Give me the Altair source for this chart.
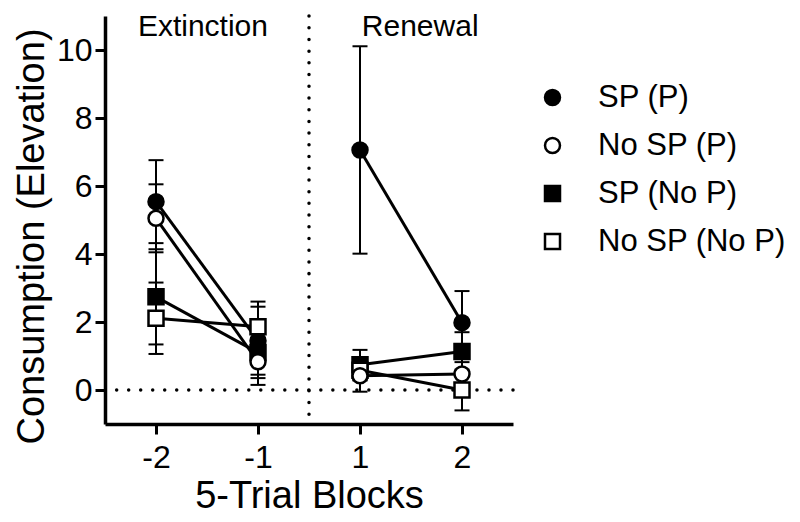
import altair as alt
import pandas as pd

blocks = ["-2", "-1", "1", "2"]
phases = ["Extinction", "Extinction", "Renewal", "Renewal"]
series = ["SP (P)", "No SP (P)", "SP (No P)", "No SP (No P)"]
draw_order = ["SP (P)", "SP (No P)", "No SP (No P)", "No SP (P)"]

sp_p = [5.54, 1.45, 7.06, 1.98]
sp_p_err = [1.22, 1.0, 3.05, 0.93]
nosp_p = [5.05, 0.83, 0.42, 0.47]
nosp_p_err = [1.0, 0.48, 0.47, 0.35]
sp_nop = [2.74, 1.1, 0.74, 1.13]
sp_nop_err = [1.4, 0.95, 0.44, 0.57]
nosp_nop = [2.11, 1.86, 0.58, 0.0]
nosp_nop_err = [1.05, 0.74, 0.3, 0.6]

phase_labels = ["Extinction", "Renewal"]
phase_label_pos = [0.46, 2.59]
phase_boundary = [1.5]
baseline_value = [0]

rows = []
for s, means, errs in zip(series, [sp_p, nosp_p, sp_nop, nosp_nop],
                          [sp_p_err, nosp_p_err, sp_nop_err, nosp_nop_err]):
    for i, (b, ph, m, e) in enumerate(zip(blocks, phases, means, errs)):
        rows.append({"series": s, "pos": i, "block": b, "phase": ph,
                     "mean": m, "lo": m - e, "hi": m + e,
                     "z": draw_order.index(s)})
df = pd.DataFrame(rows).sort_values(["z", "pos"]).reset_index(drop=True)

FONT = "Liberation Sans"
label_expr = "[" + ",".join("'%s'" % b for b in blocks) + "][datum.value]"

x_scale = alt.Scale(domain=[-0.5, 3.5], nice=False, zero=False)
y_scale = alt.Scale(domain=[-1, 11], nice=False, zero=False)
x_axis = alt.Axis(values=[0, 1, 2, 3], labelExpr=label_expr, title="5-Trial Blocks",
                  labelPadding=8, titlePadding=4)
y_axis = alt.Axis(values=[0, 2, 4, 6, 8, 10], title="Consumption (Elevation)",
                  labelPadding=3, titleX=-62, titleY=220, titleBaseline="alphabetic",
                  titleAngle=270)


def xenc(field):
    return alt.X(field + ":Q", scale=x_scale, axis=x_axis, title="5-Trial Blocks")


def yenc(field):
    return alt.Y(field + ":Q", scale=y_scale, axis=y_axis, title="Consumption (Elevation)")


base = alt.Chart(df)

zero_line = alt.Chart(pd.DataFrame({"mean": baseline_value})).mark_rule(
    color="black", strokeDash=[0.01, 12], strokeCap="round", strokeWidth=3.5
).encode(y=yenc("mean"))

vline = alt.Chart(pd.DataFrame({"pos": phase_boundary})).mark_rule(
    color="black", strokeDash=[0.01, 11.7], strokeCap="round", strokeWidth=3.5
).encode(x=xenc("pos"))

err_rule = base.mark_rule(color="black", strokeWidth=2).encode(
    x=xenc("pos"), y=yenc("lo"), y2="hi:Q"
)

caps = base.transform_fold(["lo", "hi"], as_=["end", "val"]).mark_tick(
    orient="horizontal", size=15, thickness=2, color="black", opacity=1
).encode(x=xenc("pos"), y=yenc("val"))

lines = base.mark_line(color="black", strokeWidth=3).encode(
    x=xenc("pos"), y=yenc("mean"),
    detail=[alt.Detail("series:N"), alt.Detail("phase:N")],
    order=alt.Order("pos:Q"),
)

legend = alt.Legend(
    title=None, orient="none", legendX=432, legendY=66,
    labelFont=FONT, labelFontSize=31, labelColor="black", labelLimit=400,
    symbolSize=225, symbolStrokeColor="black", symbolStrokeWidth=2.5,
    labelOffset=30, rowPadding=16, padding=0,
)

points = base.mark_point(filled=True, size=225, strokeWidth=2.5, opacity=1).encode(
    x=xenc("pos"), y=yenc("mean"),
    shape=alt.Shape("series:N", scale=alt.Scale(domain=series, range=["circle", "circle", "square", "square"]),
                    legend=legend),
    fill=alt.Fill("series:N", scale=alt.Scale(domain=series, range=["black", "white", "black", "white"]),
                  legend=legend),
    stroke=alt.Stroke("series:N", scale=alt.Scale(domain=series, range=["black", "black", "black", "black"]),
                      legend=legend),
)

labels = alt.Chart(pd.DataFrame({"phase": phase_labels, "pos": phase_label_pos})).mark_text(
    font=FONT, fontSize=30, color="black", baseline="alphabetic", align="center"
).encode(x=xenc("pos"), y=alt.value(20), text="phase:N")

chart = alt.layer(zero_line, vline, err_rule, caps, lines, points, labels).properties(
    width=408, height=408,
    autosize=alt.AutoSizeParams(type="none"),
    padding={"left": 97, "top": 8, "right": 279, "bottom": 90},
).configure_view(stroke=None).configure_axis(
    grid=False, domainColor="black", domainWidth=3.5, tickColor="black", tickWidth=3,
    tickSize=10, labelFont=FONT, labelFontSize=32, labelColor="black",
    titleFont=FONT, titleFontSize=38, titleFontWeight="normal", titleColor="black",
)

chart.save("out.html", embed_options={"renderer": "svg", "actions": False})
